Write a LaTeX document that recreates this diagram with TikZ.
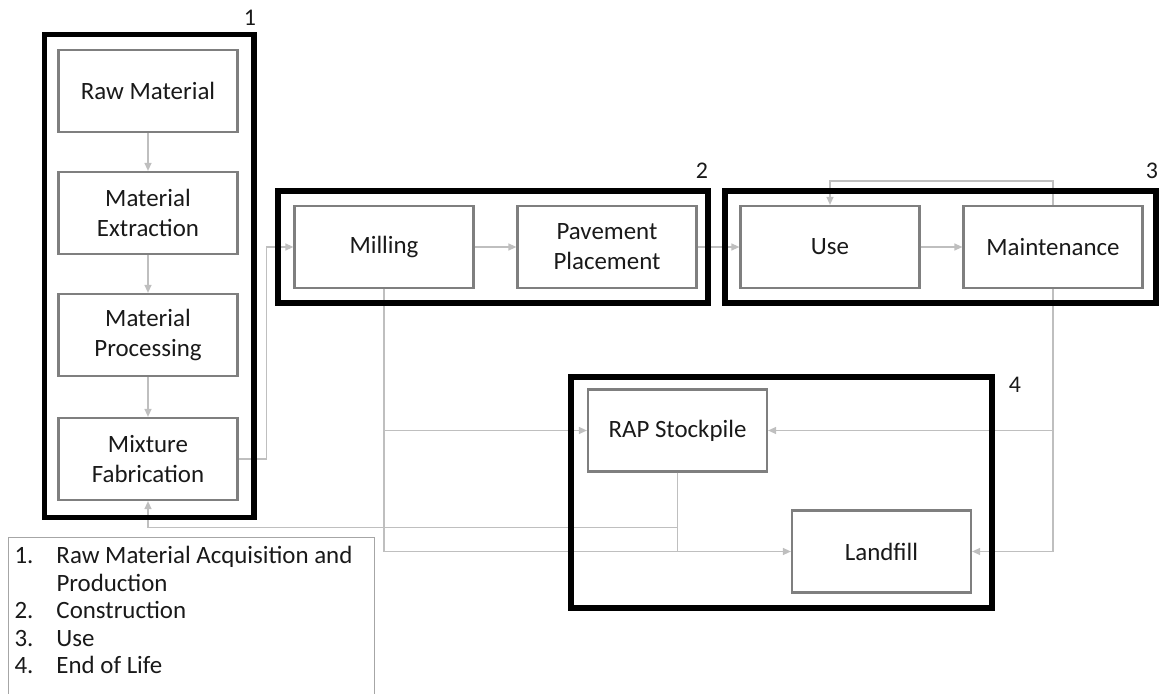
\documentclass[tikz,border=0pt]{standalone}
\usepackage{fontspec}
\setmainfont{Carlito}
\usetikzlibrary{arrows.meta}
\definecolor{boxgray}{HTML}{7F7F7F}
\definecolor{arrgray}{HTML}{BFBFBF}
\definecolor{leggray}{HTML}{A6A6A6}
\tikzset{
  stagebox/.style={draw=boxgray, line width=2.2bp, minimum width=179bp, minimum height=82bp,
    align=center, font=\fontsize{25}{30}\selectfont, inner sep=0pt, text=black!90},
  framebox/.style={draw=black, line width=5.5bp, inner sep=0pt},
  arr/.style={draw=arrgray, line width=1.3bp, -{Triangle[length=8bp,width=7bp]}},
  flow/.style={draw=arrgray, line width=1.3bp},
  numlabel/.style={font=\fontsize{24}{29}\selectfont, inner sep=0pt, text=black!90},
}
\begin{document}
\begin{tikzpicture}[x=1bp,y=-1bp]
\useasboundingbox (0,0) rectangle (1160,694);
% stage boxes
\node[stagebox] (raw)  at (148,91)  {Raw Material};
\node[stagebox] (ext)  at (148,213) {Material\\Extraction};
\node[stagebox] (proc) at (148,335) {Material\\Processing};
\node[stagebox] (mix)  at (148,459) {Mixture\\Fabrication};
\node[stagebox] (mill) at (384,247) {Milling};
\node[stagebox] (pave) at (607,247) {Pavement\\Placement};
\node[stagebox] (use)  at (830,247) {Use};
\node[stagebox] (maint) at (1053,247) {Maintenance};
\node[stagebox] (rap)  at (677.5,430.5) {RAP Stockpile};
\node[stagebox] (land) at (881.5,551.5) {Landfill};
% connectors
\draw[arr] (raw) -- (ext);
\draw[arr] (ext) -- (proc);
\draw[arr] (proc) -- (mix);
\draw[arr] (mix.east) -- ++(28,0) |- (mill.west);
\draw[arr] (mill) -- (pave);
\draw[arr] (pave) -- (use);
\draw[arr] (use) -- (maint);
\draw[arr] (maint.north) -- ++(0,-24) -| (use.north);
\draw[arr] (maint.south) |- (rap.east);
\draw[arr] (maint.south) |- (land.east);
\draw[arr] (mill.south) |- (rap.west);
\draw[arr] (mill.south) |- (land.west);
\draw[flow] (rap.south) -- (rap.south |- land.west);
\draw[arr] (rap.south) -- ++(0,55) -| (mix.south);
% phase frames
\node[framebox, minimum width=209.5bp, minimum height=483bp] (g1) at (149.25,276) {};
\node[framebox, minimum width=430bp, minimum height=112bp] (g2) at (493,247) {};
\node[framebox, minimum width=431bp, minimum height=112bp] (g3) at (940.5,247) {};
\node[framebox, minimum width=421bp, minimum height=231bp] (g4) at (781.5,492.5) {};
\node[numlabel] (l1) at (250,18) {1};
\node[numlabel] (l2) at (702,171) {2};
\node[numlabel] (l3) at (1152,171) {3};
\node[numlabel] (l4) at (1015,385) {4};
% legend
\node[draw=leggray, line width=1bp, anchor=north west, inner xsep=6bp, inner ysep=6.5bp,
  text width=354bp, align=left, font=\fontsize{25}{27.75}\selectfont, text=black!90] (legend) at (8,537)
  {\spaceskip=0pt\xspaceskip=0pt\noindent\begin{tabular}{@{}l@{}l@{}}
   \makebox[42bp][l]{1.} & Raw Material Acquisition and\\
      & Production\\
   2. & Construction\\
   3. & Use\\
   4. & End of Life\\
      & \\
  \end{tabular}};
\end{tikzpicture}
\end{document}
